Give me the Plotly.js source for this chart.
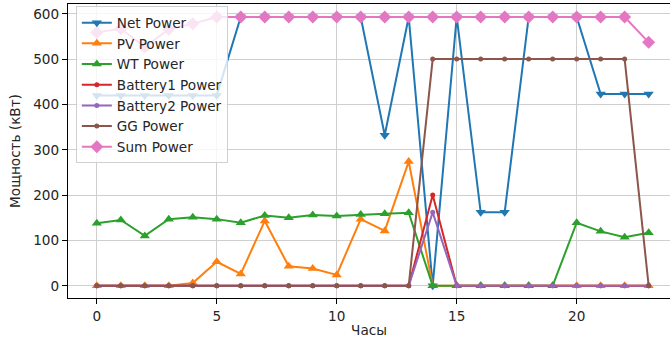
<!DOCTYPE html>
<html>
<head>
<meta charset="utf-8">
<script src="https://cdn.plot.ly/plotly-3.0.1.min.js"></script>
<style>html,body{margin:0;padding:0;background:#fff;}#chart{width:670px;height:339px;}</style>
</head>
<body>
<div id="chart"></div>
<script>
const hours = [0,1,2,3,4,5,6,7,8,9,10,11,12,13,14,15,16,17,18,19,20,21,22,23];
const netPower = [420,420,420,420,420,420,593,593,593,593,593,593,332,593,0,593,162,162,593,593,593,423,423,423];
const pvPower = [0,0,0,0,6,53,26,143,43,38,24,147,121,274,0,0,0,0,0,0,0,0,0,0];
const wtPower = [138,145,110,147,151,147,139,155,150,156,154,157,159,161,0,0,0,0,0,0,139,120,107,117];
const battery1Power = [0,0,0,0,0,0,0,0,0,0,0,0,0,0,200,0,0,0,0,0,0,0,0,0];
const battery2Power = [0,0,0,0,0,0,0,0,0,0,0,0,0,0,162,0,0,0,0,0,0,0,0,0];
const ggPower = [0,0,0,0,0,0,0,0,0,0,0,0,0,0,500,500,500,500,500,500,500,500,500,0];
const sumPower = [559,567,527,566,578,593,593,593,593,593,593,593,593,593,593,593,593,593,593,593,593,593,593,537];
const xTicks = [0,5,10,15,20];
const yTicks = [0,100,200,300,400,500,600];

const seriesDefs = [
  {name:'Net Power', y:netPower, color:'#1f77b4', symbol:'triangle-down', size:9},
  {name:'PV Power', y:pvPower, color:'#ff7f0e', symbol:'triangle-up', size:9},
  {name:'WT Power', y:wtPower, color:'#2ca02c', symbol:'triangle-up', size:9},
  {name:'Battery1 Power', y:battery1Power, color:'#d62728', symbol:'circle', size:5},
  {name:'Battery2 Power', y:battery2Power, color:'#9467bd', symbol:'circle', size:5},
  {name:'GG Power', y:ggPower, color:'#8c564b', symbol:'circle', size:5},
  {name:'Sum Power', y:sumPower, color:'#e377c2', symbol:'diamond', size:10}
];

const traces = seriesDefs.map(s => ({
  type:'scatter', mode:'lines+markers', name:s.name, x:hours, y:s.y,
  line:{color:s.color, width:2},
  marker:{color:s.color, symbol:s.symbol, size:s.size, line:{width:0}}
}));

const fs = 13.6;
const font = {family:'DejaVu Sans, sans-serif', size:fs, color:'#262626'};
const layout = {
  width:670, height:339,
  margin:{l:68, r:0, t:4, b:41},
  paper_bgcolor:'#fff', plot_bgcolor:'#fff',
  font:font,
  showlegend:true,
  legend:{x:0.013, y:0.992, xanchor:'left', yanchor:'top', bgcolor:'rgba(255,255,255,0.8)',
          bordercolor:'#d0d0d0', borderwidth:1, font:{family:'DejaVu Sans, sans-serif', size:fs, color:'#262626'},
          tracegroupgap:0},
  xaxis:{range:[-1.2, 23.89], tickvals:xTicks, ticktext:xTicks.map(String),
         showgrid:true, gridcolor:'#cfcfcf', gridwidth:1, zeroline:false,
         showline:true, linecolor:'#000', linewidth:1.2, mirror:true,
         ticks:'outside', ticklen:5, tickcolor:'#000', tickfont:{size:fs},
         title:{text:'Часы', font:{size:fs}, standoff:3}},
  yaxis:{range:[-27, 621.6], tickvals:yTicks, ticktext:yTicks.map(String),
         showgrid:true, gridcolor:'#cfcfcf', gridwidth:1, zeroline:false,
         showline:true, linecolor:'#000', linewidth:1.2, mirror:true,
         ticks:'outside', ticklen:5, tickcolor:'#000', tickfont:{size:fs},
         title:{text:'Мощность (кВт)', font:{size:fs}, standoff:9}}
};
Plotly.newPlot('chart', traces, layout, {displayModeBar:false, staticPlot:true});
</script>
</body>
</html>
